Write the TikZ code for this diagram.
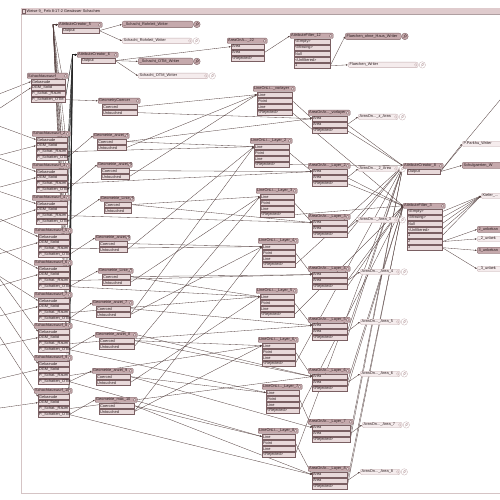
\documentclass[tikz,border=0pt]{standalone}
\usepackage{fontspec}
\setmainfont{Liberation Sans}
\usetikzlibrary{arrows.meta,calc}
\pgfdeclarelayer{bg}
\pgfsetlayers{bg,main}
\definecolor{hdrfill}{HTML}{C5A9AC}
\definecolor{prtfill}{HTML}{E8D9DA}
\definecolor{bord}{HTML}{7A5F62}
\definecolor{lncol}{HTML}{54403F}
\definecolor{txtc}{HTML}{2A1C1E}
\definecolor{barc}{HTML}{DFCBCD}
\definecolor{framec}{HTML}{D5C4C5}
\definecolor{lwfill}{HTML}{F5ECED}
\definecolor{lwbord}{HTML}{C4AEB0}
\tikzset{
 fnt/.style={font=\fontsize{3.9}{4.2}\selectfont, text=txtc},
 hdr/.style={fnt, draw=bord, line width=0.3pt, fill=hdrfill, rounded corners=1pt, inner xsep=1pt, inner ysep=0pt, minimum height=5.3pt, anchor=north west, align=left},
 prt/.style={fnt, draw=bord, line width=0.25pt, fill=prtfill, inner xsep=1pt, inner ysep=0pt, minimum height=5pt, anchor=north west, align=left},
 icn/.style={draw=bord, line width=0.25pt, fill=prtfill},
 wdk/.style={fnt, draw=bord, line width=0.3pt, fill=hdrfill, rounded corners=2pt, inner xsep=1.5pt, inner ysep=0pt, minimum height=6.5pt, anchor=north west, align=left},
 wlt/.style={fnt, draw=lwbord, line width=0.3pt, fill=lwfill, rounded corners=2pt, inner xsep=1.5pt, inner ysep=0pt, minimum height=5.5pt, anchor=north west, align=left},
 cn/.style={draw=lncol, line width=0.32pt, -{Latex[length=2pt,width=1.6pt]}},
 cnk/.style={draw=black!85, line width=0.45pt, -{Latex[length=2pt,width=1.6pt]}},
}
% transformer: name, x, y, width, title, ports
\newcommand\xf[6]{%
 \pgfmathsetmacro\hw{#4-2}%
 \pgfmathsetmacro\pw{#4-9}%
 \node[hdr, text width=\hw pt] (#1) at (#2,#3) {#5};
 \path[icn] ($(#1.east)+(-2.6,0)$) circle (1.5pt);
 \foreach \pp [count=\ii] in {#6} {
   \node[prt, text width=\pw pt] (#1-\ii) at ({#2+4},{#3+6*\ii}) {\pp};
 }
}
% dark writer
\newcommand\wrdk[5]{%
 \pgfmathsetmacro\hw{#4-3}%
 \node[wdk, text width=\hw pt] (#1) at (#2,#3) {#5};
 \path[draw=bord, line width=0.35pt, fill=hdrfill] ($(#1.east)+(3.6,0)$) circle (3.3pt);
 \draw[bord, line width=0.5pt] ($(#1.east)+(4.2,-0.6)$) circle (1.3pt) ($(#1.east)+(3.3,0.5)$) -- ($(#1.east)+(2.1,1.7)$);
}
% light writer
\newcommand\wrlt[5]{%
 \pgfmathsetmacro\hw{#4-3}%
 \node[wlt, text width=\hw pt] (#1) at (#2,#3) {#5};
 \path[draw=lwbord, line width=0.3pt, fill=white] ($(#1.east)+(4,0)$) circle (3.2pt);
 \path[draw=lwbord, line width=0.3pt] ($(#1.east)+(-2.5,0)$) circle (1.4pt);
 \draw[lwbord, line width=0.4pt] ($(#1.east)+(4.5,-0.5)$) circle (1.2pt) ($(#1.east)+(3.7,0.4)$) -- ($(#1.east)+(2.7,1.5)$);
}
\begin{document}
\begin{tikzpicture}[x=1pt,y=-1pt]
\useasboundingbox (0,0) rectangle (500,500);
\begin{pgfonlayer}{bg}
 \clip (0,0) rectangle (500,500);
 \fill[white] (0,0) rectangle (500,500);
\end{pgfonlayer}
\clip (0,0) rectangle (500,500);
% window frame
\fill[barc] (21,8) rectangle (500,14.5);
\draw[framec, line width=0.6pt] (21,14.5) -- (21,493) -- (500,493);
\draw[bord!60, line width=0.3pt] (21,14.5) -- (500,14.5);
\node[fnt, anchor=west, inner sep=0pt] (title) at (26.5,11.3) {Weise 9\_ Feb 8-17-2 Gewässer Schachen};
\path[draw=bord, fill=prtfill, line width=0.25pt] (22.3,9.6) rectangle (25.3,12.8);

% top part
\xf{AC5}{58}{22}{44}{AttributeCreator\_5}{Output}
\wrdk{WS1}{122}{21}{71}{\_Schacht\_Rohrleit\_Writer}
\wrlt{WS2}{122}{38}{70}{Schacht\_Rohrleit\_Writer}
\xf{AC6}{77}{52}{41}{AttributeCreator\_6}{Output}
\wrdk{WO1}{138}{58}{55}{\_Schacht\_OTM\_Writer}
\wrlt{WO2}{138}{73}{70}{Schacht\_OTM\_Writer}
\xf{AAZ}{227}{38}{40}{AreaOnA...\_22}{Area,Area,<Rejected>}
\xf{AFZ}{290}{33}{43}{AttributeFilter\_12}{<Empty>,<Missing>,Null,<Unfiltered>,1}
\wrdk{WF1}{345}{33}{56}{Flaechen\_ohne\_Haus\_Writer}
\wrlt{WF2}{348}{62}{70}{Flaechen\_Writer}

% left column
\xf{L1}{27}{73}{41}{Schachtauswurf}{Gebaeude,DGM\_Solid,P.\_Schat.\_Raum,P.\_Schatten\_OTM}
\foreach \nm/\x/\y/\w/\lab in {L2/32/131/38/2, L3/32/163/38/3, L4/32/195/38/4, L5/34/228/38/5, L6/34/260/38/6, L7/34/292/38/7, L8/34/323/38/8, L9/34/355/38/9, L10/34/388/38/10}
 {\xf{\nm}{\x}{\y}{\w}{Schachtauswurf\_\lab}{Gebaeude,DGM\_Solid,P.\_Schat.\_Raum,P.\_Schatten\_OTM}}

% geometry column
\xf{G1}{98}{98}{42}{GeometryCoercer}{Coerced,Untouched}
\foreach \nm/\x/\y/\w/\lab in {G2/93/133/36/anzei\_4, G3/97/162/35/anzei\_5, G4/100/196/34/Linie\_6, G5/95/235/35/anzei\_6, G6/98/268/35/Linie\_8, G7/92/300/41/anzei\_7, G8/95/332/42/anzei\_8, G9/92/368/41/anzei\_9, G10/95/397/42/max\_10}
 {\xf{\nm}{\x}{\y}{\w}{Geometrie\_\lab}{Coerced,Untouched}}

% line on line column
\foreach \nm/\x/\y/\w/\lab in {N1/253/86/42/vorlayer, N2/250/138/42/Layer\_2, N3/256/188/41/Layer\_3, N4/258/238/40/Layer\_4, N5/256/288/41/Layer\_5, N6/258/337/40/Layer\_6, N7/262/384/40/Layer\_7, N8/258/428/40/Layer\_8}
 {\xf{\nm}{\x}{\y}{\w}{LineOnLi...\_\lab}{Line,Point,Line,<Rejected>}}

% area on area column
\foreach \nm/\x/\y/\w/\lab in {A1/308/110/42/vorlayer, A2/308/163/42/Layer\_2, A3/308/214/42/Layer\_3, A4/308/266/42/Layer\_4, A5/308/317/42/Layer\_5, A6/308/368/42/Layer\_6, A7/308/419/45/Layer\_7, A8/308/466/42/Layer\_8}
 {\xf{\nm}{\x}{\y}{\w}{AreaOnAr...\_\lab}{Area,Area,<Rejected>}}

% area writers
\foreach \nm/\x/\y/\lab in {W1/358/114/z\_Area, W2/358/166/2\_Area, W3/358/217/Area\_3, W4/360/269/Area\_4, W5/360/319/Area\_5, W6/360/371/Area\_6, W7/362/422/Area\_7, W8/360/469/Area\_8}
 {\wrlt{\nm}{\x}{\y}{40}{AreaOn...\_\lab}}

% right part
\xf{AC8}{403}{163}{40}{AttributeCreator\_8}{Output}
\wrlt{WP1}{462}{141}{45}{P.Parkhu\_Writer}
\wrdk{WP2}{462}{162}{45}{Schulgaerten\_W}
\xf{AF3}{403}{203}{42}{AttributeFilter\_3}{<Empty>,<Missing>,Null,<Unfiltered>,1,2,3}
\wrlt{R1}{481}{193}{40}{Kiefer\_...}
\wrdk{R2}{477}{226}{40}{2\_unbekan}
\wrlt{R3}{477}{236}{40}{\_2\_unbek}
\wrdk{R4}{477}{247}{40}{3\_unbekan}
\wrlt{R5}{477}{266}{40}{\_3\_unbek}

\coordinate (j5) at (53,24.6);
\coordinate (j6) at (72.5,54.6);
\coordinate (offr) at (525,70);

\begin{pgfonlayer}{bg}
 \clip (0,0) rectangle (500,500);
 % top connectors
 \draw[cn] (AC5-1.east) -- (WS1.west);
 \draw[cn] (AC5-1.east) -- (WS2.west);
 \draw[cn] (AC6-1.east) -- (WO1.west);
 \draw[cn] (AC6-1.east) -- (WO2.west);
 \draw[cn] (AC6-1.east) -- (AAZ-1.west);
 \draw[cn] (AAZ-2.east) -- (AFZ.west);
 \draw[cn] (AFZ-5.east) -- (WF1.west);
 \draw[cn] (AFZ-5.east) -- (WF2.west);
 % left column connectors
 \foreach \kk/\sgx/\sgy/\sdx/\sdy in {1/-50/113/-50/141, 2/-50/108/-50/168, 3/-50/140/-50/200, 4/-50/175/-50/238, 5/-50/196/-50/268, 6/-50/222/-50/300, 7/-50/245/-50/328, 8/-30/238/-50/355, 9/-30/262/-50/390, 10/-30/290/-50/415} {
   \coordinate (sg\kk) at (\sgx,\sgy);
   \coordinate (sd\kk) at (\sdx,\sdy);
   \draw[cn] (sg\kk) -- (L\kk-1.west);
   \draw[cn] (sd\kk) -- (L\kk-2.west);
   \draw[cn] (L\kk-3.east) -- (j5) -- (AC5.west);
   \draw[cnk] (L\kk-4.east) -- (j6) -- (AC6.west);
   \draw[cn] (L\kk-4.east) -- (G\kk.west);
 }
 % geometry -> overlayers
 \foreach \gi/\ti in {1/1,2/2,4/3,5/4,6/5,8/6,9/7,10/8} \draw[cn] (G\gi-1.east) -- (N\ti-1.west);
 \foreach \gi/\ti in {2/1,3/1,5/2,7/2,6/3,8/3,7/4,9/5,10/6,10/4} \draw[cn] (G\gi-2.east) -- (N\ti-1.west);
 \draw[cn] (G1-2.east) -- (A1-1.west);
 \foreach \gi/\ti in {2/1,3/2,4/3,6/4,7/5,8/6,9/7,10/8} \draw[cn] (G\gi-1.east) -- (A\ti-1.west);
 \foreach \li/\ti in {2/N2,3/A2,4/A3,5/N4,6/A4,7/N5,8/A5,9/N6,10/A6} \draw[cn] (L\li-3.east) -- (\ti-1.west);
 \foreach \li/\ti in {6/N5,7/A6,8/N7,9/N8,10/A8} \draw[cn] (L\li-4.east) -- (\ti-1.west);
 % overlayers -> writers / right part
 \foreach \kk in {1,...,8} {
   \draw[cn] (N\kk-2.east) -- (A\kk-1.west);
   \draw[cn] (A\kk-2.east) -- (W\kk.west);
 }
 \foreach \kk in {1,3,5,7} {
   \draw[cn] (A\kk-3.east) -- (AC8.west);
   \draw[cn] (N\kk-4.east) -- (AF3.west);
 }
 \foreach \kk in {2,4,6,8} {
   \draw[cn] (A\kk-3.east) -- (AF3.west);
   \draw[cn] (N\kk-4.east) -- (AC8.west);
 }
 \draw[cn] (A1-2.east) -- (AC8.west);
 \draw[cn] (A2-2.east) -- (AF3.west);
 \foreach \kk in {3,5,7} \draw[cn] (A\kk-2.east) -- (AC8.west);
 \foreach \kk in {4,6,8} \draw[cn] (A\kk-2.east) -- (AF3.west);
 \draw[cn] (AC8-1.east) -- (WP1.west);
 \draw[cn] (AC8-1.east) -- (WP2.west);
 \draw[cn] (AC8-1.east) -- (offr);
 \foreach \kk in {1,...,5} \draw[cn] (AF3-\kk.east) -- (R1.west);
 \draw[cn] (AF3-6.east) -- (R2.west);
 \draw[cn] (AF3-6.east) -- (R3.west);
 \draw[cn] (AF3-7.east) -- (R4.west);
 \draw[cn] (AF3-7.east) -- (R5.west);
\end{pgfonlayer}
\end{tikzpicture}
\end{document}
